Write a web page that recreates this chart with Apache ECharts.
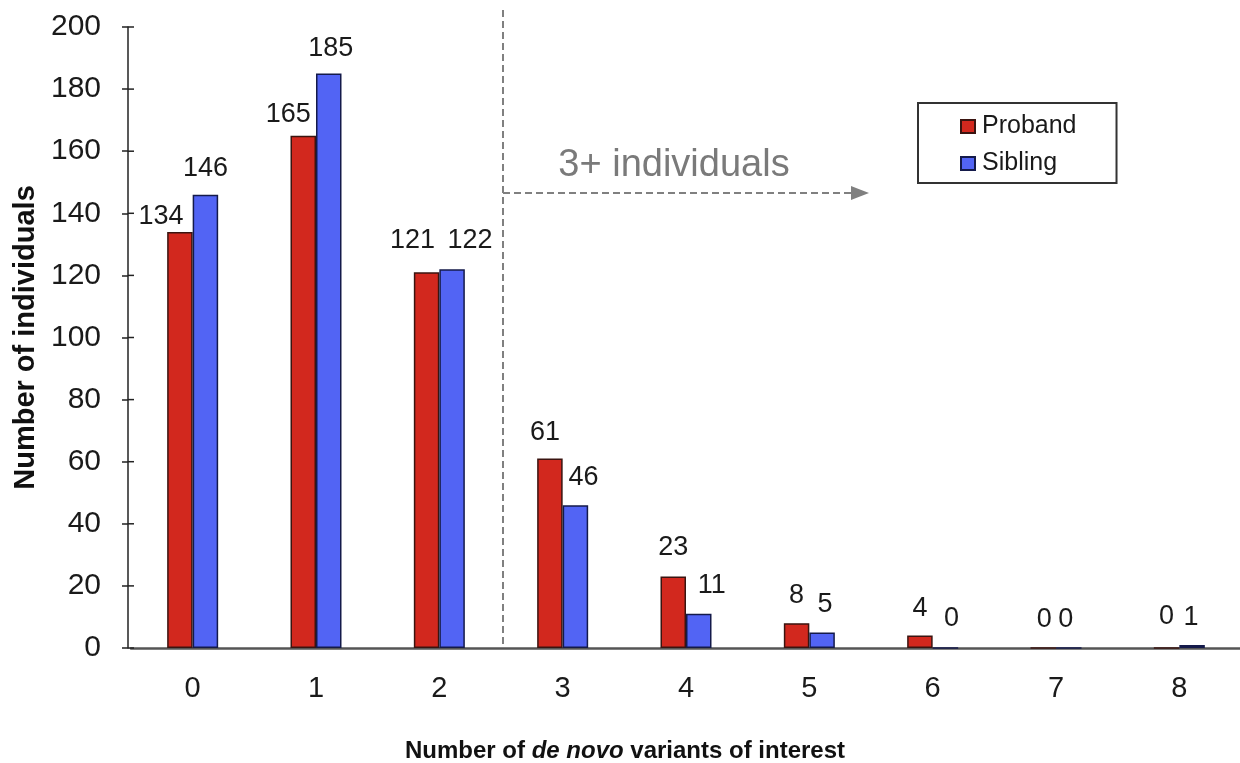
<!DOCTYPE html>
<html>
<head>
<meta charset="utf-8">
<script src="https://cdn.jsdelivr.net/npm/echarts@6/dist/echarts.min.js"></script>
<style>
  html, body { margin: 0; padding: 0; background: #ffffff; }
  #chart { width: 1240px; height: 763px; }
</style>
</head>
<body>
<div id="chart"></div>
<script>
// Counts of individuals by number of de novo variants of interest
const categories = ['0', '1', '2', '3', '4', '5', '6', '7', '8'];
const proband = [134, 165, 121, 61, 23, 8, 4, 0, 0];
const sibling = [146, 185, 122, 46, 11, 5, 0, 0, 1];
const yMin = 0, yMax = 200, yStep = 20;

// Hand-placed label nudges [dx, dy] so the value labels sit as in the figure
const probandLabelShift = [[-19, 3], [-15, -3], [-14, -13], [-5, -8], [0, -11], [0, -9], [0, -9], [1, -9], [0, -12]];
const siblingLabelShift = [[0, -8], [2, -7], [18, -10], [8, -9], [13, -10], [3, -9], [6, -10], [-3, -9], [-1, -9]];

const FONT = '"Liberation Sans", Arial, Helvetica, sans-serif';
const INK = '#1a1a1a';

function barData(values, shifts) {
  return values.map((v, i) => ({
    value: v,
    label: { offset: shifts[i] }
  }));
}

const labelStyle = {
  show: true,
  position: 'top',
  distance: 5,
  fontFamily: FONT,
  fontSize: 27,
  color: INK
};

const chart = echarts.init(document.getElementById('chart'), null, { renderer: 'canvas' });

chart.setOption({
  animation: false,
  backgroundColor: '#ffffff',
  grid: { left: 131, width: 1110, top: 27, bottom: 115, containLabel: false, outerBoundsMode: 'none' },
  legend: {
    orient: 'vertical',
    left: 918,
    top: 103,
    padding: [11, 40, 7, 42],
    itemGap: 12,
    itemWidth: 14,
    itemHeight: 13,
    icon: 'rect',
    borderColor: '#333',
    borderWidth: 2,
    textStyle: { fontFamily: FONT, fontSize: 25, color: INK, padding: [0, 0, 0, 2] },
    data: ['Proband', 'Sibling']
  },
  xAxis: {
    type: 'category',
    data: categories,
    axisLine: { show: true, lineStyle: { color: '#555', width: 2.5 } },
    axisTick: { show: false },
    axisLabel: { margin: 26, fontFamily: FONT, fontSize: 29, lineHeight: 29, color: INK },
    splitLine: { show: false },
    name: '{b|Number of }{i|de novo}{b| variants of interest}',
    nameLocation: 'middle',
    nameGap: 91,
    nameTextStyle: {
      padding: [0, 122, 0, 0],
      rich: {
        b: { fontFamily: FONT, fontSize: 24, fontWeight: 'bold', color: '#111' },
        i: { fontFamily: FONT, fontSize: 24, fontWeight: 'bold', fontStyle: 'italic', color: '#111' }
      }
    }
  },
  yAxis: {
    type: 'value',
    min: yMin, max: yMax, interval: yStep,
    offset: 3,
    axisLine: { show: true, lineStyle: { color: '#222', width: 1.5 } },
    axisTick: { show: true, inside: false, length: 6, lineStyle: { color: '#222', width: 1.5 } },
    axisLabel: { margin: 27, fontFamily: FONT, fontSize: 30, color: INK },
    splitLine: { show: false },
    name: 'Number of individuals',
    nameLocation: 'middle',
    nameGap: 87,
    nameTextStyle: { fontFamily: FONT, fontSize: 29, fontWeight: 'bold', color: '#111' }
  },
  series: [
    {
      name: 'Proband',
      type: 'bar',
      barWidth: 25.5,
      barGap: '0%',
      itemStyle: { color: '#d2281e', borderColor: '#3a1410', borderWidth: 1.5 },
      label: labelStyle,
      data: barData(proband, probandLabelShift)
    },
    {
      name: 'Sibling',
      type: 'bar',
      barWidth: 25.5,
      barGap: '0%',
      itemStyle: { color: '#5264f4', borderColor: '#141a4a', borderWidth: 1.5 },
      label: labelStyle,
      data: barData(sibling, siblingLabelShift)
    }
  ]
});

// Y-axis position in pixels (axis line sits 3px left of the grid)
const gridLeft = chart.convertToPixel({ xAxisIndex: 0 }, 0) - chart.getModel().getComponent('xAxis', 0).axis.getBandWidth() / 2;
const yAxisX = gridLeft - 3;

// Inner half of the crossing tick marks on the value axis
const tickMarks = [];
for (let v = yMin; v <= yMax; v += yStep) {
  const py = chart.convertToPixel({ yAxisIndex: 0 }, v);
  tickMarks.push({
    type: 'line',
    shape: { x1: yAxisX, y1: py, x2: yAxisX + 6, y2: py },
    style: { stroke: '#222', lineWidth: 1.5 },
    z: 5
  });
}

// Threshold annotation: dashed divider between 2 and 3, plus the "3+ individuals" arrow
const xa = chart.convertToPixel({ xAxisIndex: 0 }, 2);
const xb = chart.convertToPixel({ xAxisIndex: 0 }, 3);
const xs = (xa + xb) / 2 + 2;
const yBase = chart.convertToPixel({ yAxisIndex: 0 }, 0);
const yArrow = chart.convertToPixel({ yAxisIndex: 0 }, 146.5);
const yText = chart.convertToPixel({ yAxisIndex: 0 }, 155.5);
const arrowLen = 348;

chart.setOption({
  graphic: tickMarks.concat([
    {
      type: 'line',
      shape: { x1: xs, y1: 10, x2: xs, y2: yBase },
      style: { stroke: '#808080', lineWidth: 2, lineDash: [7, 4] },
      z: 1
    },
    {
      type: 'line',
      shape: { x1: xs, y1: yArrow, x2: xs + arrowLen, y2: yArrow },
      style: { stroke: '#808080', lineWidth: 2, lineDash: [7, 4] },
      z: 1
    },
    {
      type: 'polygon',
      shape: { points: [[xs + arrowLen, yArrow - 7], [xs + arrowLen + 18, yArrow], [xs + arrowLen, yArrow + 7]] },
      style: { fill: '#808080' },
      z: 1
    },
    {
      type: 'text',
      x: xs + 171,
      y: yText,
      style: {
        text: '3+ individuals',
        fontFamily: FONT,
        fontSize: 38,
        fill: '#7a7a7a',
        align: 'center',
        verticalAlign: 'middle'
      },
      z: 1
    }
  ])
});
</script>
</body>
</html>
